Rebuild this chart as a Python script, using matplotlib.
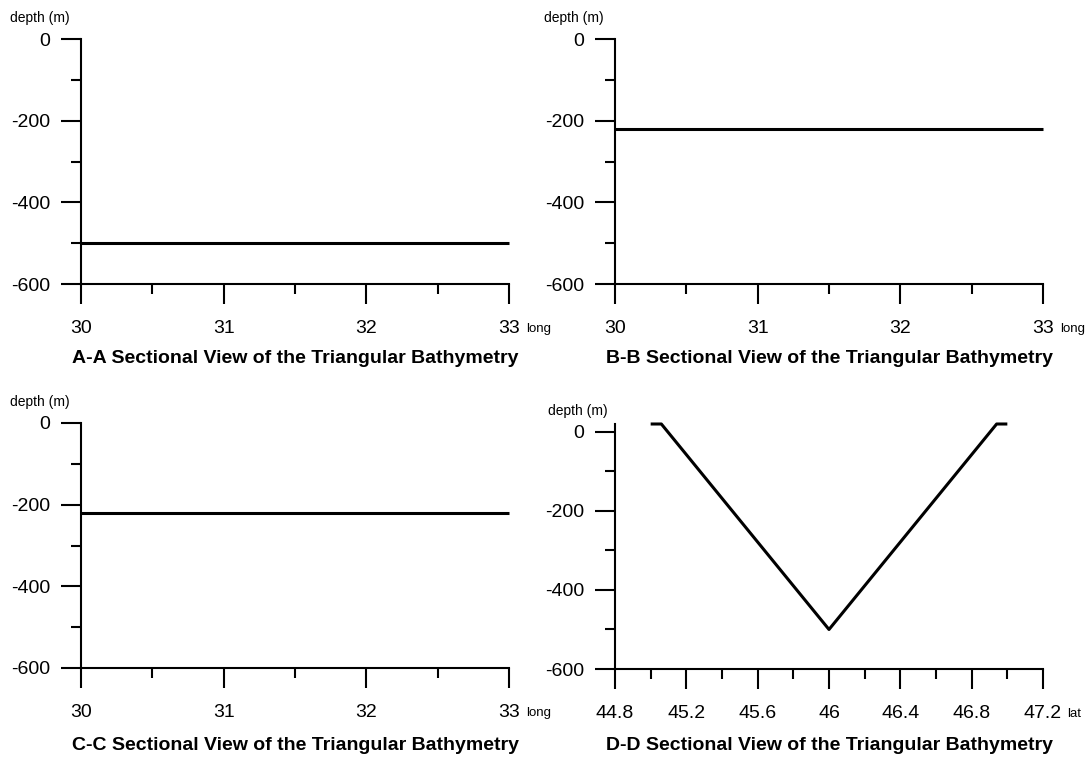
import matplotlib
matplotlib.use("Agg")
import matplotlib.pyplot as plt
from matplotlib.ticker import MultipleLocator, FixedLocator

plt.rcParams['font.family'] = ['Liberation Sans', 'DejaVu Sans']

# ---- data ----
long_x = [30, 33]
depth_A = [-500, -500]
depth_B = [-220, -220]
depth_C = [-220, -220]
lat_D = [45.0, 45.06, 46.0, 46.94, 47.0]
depth_D = [20, 20, -500, 20, 20]

titles = ["A-A Sectional View of the Triangular Bathymetry",
          "B-B Sectional View of the Triangular Bathymetry",
          "C-C Sectional View of the Triangular Bathymetry",
          "D-D Sectional View of the Triangular Bathymetry"]
long_ticks = [30, 31, 32, 33]
lat_ticks = [44.8, 45.2, 45.6, 46, 46.4, 46.8, 47.2]
depth_ticks = [0, -200, -400, -600]
depth_minor = [-100, -300, -500]

W, H = 1088, 760
fig = plt.figure(figsize=(W / 100, H / 100), dpi=100)

def px_axes(left, top, right, bottom):
    return fig.add_axes([left / W, 1 - bottom / H, (right - left) / W, (bottom - top) / H])

axA = px_axes(81, 39, 509, 284)
axB = px_axes(615, 39, 1043, 284)
axC = px_axes(81, 423, 509, 668)
axD = px_axes(615, 424, 1043, 669)

def style(ax, xs, ys, xticks, xminor, xunit, xunit_off, ylim_top, depth_off,
          title, title_off):
    ax.plot(xs, ys, color='black', lw=2.2, clip_on=False, solid_capstyle='butt')
    ax.set_xlim(xticks[0], xticks[-1])
    ax.set_ylim(-600, ylim_top)
    for s in ['top', 'right']:
        ax.spines[s].set_visible(False)
    for s in ['left', 'bottom']:
        ax.spines[s].set_linewidth(1.5)
    ax.xaxis.set_major_locator(FixedLocator(xticks))
    ax.xaxis.set_minor_locator(MultipleLocator(xminor))
    ax.yaxis.set_major_locator(FixedLocator(depth_ticks))
    ax.yaxis.set_minor_locator(FixedLocator(depth_minor))
    ax.set_xticklabels([f"{t:g}" for t in xticks])
    ax.set_yticklabels([f"{t:g}" for t in depth_ticks])
    ax.tick_params(which='major', direction='out', length=14.5, width=1.5,
                   labelsize=14)
    ax.tick_params(which='minor', direction='out', length=7.5, width=1.5)
    ax.tick_params(axis='y', which='major', pad=7.5)
    ax.tick_params(axis='x', which='major', pad=11.5)
    ax.annotate("depth (m)", xy=(0, 0), xycoords=('axes fraction', 'data'),
                xytext=(-depth_off, 21), textcoords='offset pixels',
                ha='left', va='center', fontsize=10)
    ax.annotate(xunit, xy=(1, 0), xycoords='axes fraction',
                xytext=(xunit_off, -48), textcoords='offset pixels',
                ha='left', va='baseline', fontsize=9.5)
    ax.annotate(title, xy=(0.5, 0), xycoords='axes fraction',
                xytext=(0, -title_off), textcoords='offset pixels',
                ha='center', va='center', fontsize=14, fontweight='bold')

style(axA, long_x, depth_A, long_ticks, 0.5, "long", 17, 0, 71, titles[0], 74)
style(axB, long_x, depth_B, long_ticks, 0.5, "long", 17, 0, 71, titles[1], 74)
style(axC, long_x, depth_C, long_ticks, 0.5, "long", 17, 0, 71, titles[2], 77)
style(axD, lat_D, depth_D, lat_ticks, 0.2, "lat", 24, 20, 67, titles[3], 77)

fig.savefig("out.png", dpi=100)
